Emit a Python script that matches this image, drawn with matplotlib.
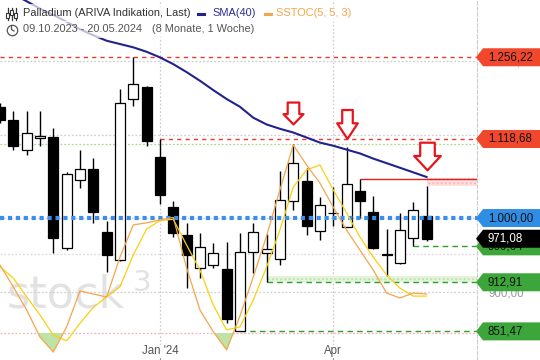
import matplotlib
matplotlib.use("Agg")
import numpy as np
import pandas as pd
import matplotlib.pyplot as plt
import matplotlib.dates as mdates
from matplotlib.patches import Polygon, Rectangle
from matplotlib.lines import Line2D
from matplotlib.path import Path
from matplotlib.ticker import NullLocator

plt.rcParams['font.family'] = ['Liberation Sans', 'DejaVu Sans']

# Wochenkerzen Palladium, 09.10.2023 - 20.05.2024
dates = pd.date_range("2023-10-09", periods=33, freq="7D")
opens = [1171, 1149, 1102, 1121, 1122, 959, 1055, 1072, 980, 942, 1184, 1204,
         1090, 1016, 976, 931, 936, 930, 852, 953, 951, 943, 1025, 1054,
         982, 1006.5, 988, 1039, 1009, 950.5, 938, 972, 1003]
highs = [1177, 1164, 1164, 1164, 1136, 1067, 1101, 1089, 996, 1201, 1256.22, 1206,
         1118.68, 1025, 993, 979, 965, 966, 979, 993, 978, 1069, 1110, 1073,
         1031, 1045, 1106, 1056.4, 1032, 984, 1007, 1023, 1046]
lows = [1144, 1102, 1093, 1108, 952, 956, 1044, 993, 926, 941, 1173, 1108,
        1020, 974, 906, 918, 932, 862, 851.47, 925, 912.91, 936, 1011, 976,
        970, 989, 987, 999.6, 957, 921, 937, 960.64, 968]
closes = [1149, 1108, 1128, 1124, 972, 1064, 1072, 1008, 949, 1178, 1209, 1116,
          1033, 979, 949, 960, 951, 867, 953, 980, 957, 1026, 1081, 989,
          1018, 1007.5, 1050, 1025, 959, 949.5, 983, 1012, 971.08]
sma40 = [1386, 1374, 1360, 1346, 1334, 1321, 1307, 1296, 1286, 1280, 1274, 1266,
         1256, 1244, 1230, 1215, 1199, 1184, 1171, 1153, 1142, 1135, 1129, 1121,
         1113, 1108, 1102, 1096, 1088, 1081, 1074, 1067, 1060]
stoch_k = [48.9, 39.6, 29.8, 18.3, 11.9, 22.6, 37.9, 36.6, 35.3, 52.3, 66.0, 66.9,
           68.1, 69.2, 47.7, 29.8, 20.6, 12.8, 27.2, 43.8, 61.3, 80.9, 100.0, 91.5,
           83.8, 73.6, 63.8, 55.3, 46.8, 37.0, 34.9, 37.0, 36.6]
stoch_d = [48.2, 43.3, 35.4, 27.7, 19.1, 16.7, 24.1, 30.9, 35.4, 39.7, 53.2, 64.3,
           67.8, 68.4, 57.4, 46.8, 31.9, 21.3, 22.6, 34.0, 48.1, 63.8, 82.1, 89.4,
           91.5, 80.9, 71.1, 60.9, 52.3, 44.7, 39.1, 35.7, 35.7]

# Gitter / Achsenbeschriftung (950 ist im Original verdeckt)
grid_vals = [850, 900, 950, 1000, 1125, 1250]
grid_text = ["850,00", "900,00", "", "1.000,00", "1.125,00", "1.250,00"]
grid_cols = ["#f2b3b3", "#d0d0d0", "#e2d4e2", "#d0d0d0", "#d0d0d0", "#c6cee0"]

# markierte Kursniveaus (Label rechts)
level_vals = [1256.22, 1118.68, 1000.00, 960.64, 971.08, 912.91, 851.47]
level_text = ["1.256,22", "1.118,68", "1.000,00", "960,64", "971,08", "912,91", "851,47"]
level_face = ["#f0472d", "#f0472d", "#2f8de4", "#3ca63a", "#000000", "#3ca63a", "#3ca63a"]
level_txt = ["#111111", "#111111", "#111111", "#111111", "#ffffff", "#111111", "#111111"]

resist_val = 1056.4
resist_band = (1046, 1058)
support_band = (913.6, 921.4)
arrow_idx = [22, 26, 32]
arrow_price = [1161.5, 1142, 1092.7]

W, H = 540, 360
fig = plt.figure(figsize=(W / 100, H / 100), dpi=100)
ax = fig.add_axes([0, 0, 477 / W, 1])
x = mdates.date2num(dates)
x0 = x[0]
xr = x0 + 250.5
ax.set_yscale('log')
ax.set_ylim(817.6, 1362.5)
ax.set_xlim(x0, xr)

# SSTOC-Achse (Overlay)
ax2 = ax.twinx()
ax2.set_ylim(8.51, 161.7)
ax2.axis("off")

# Gitterlinien
for v, col in zip(grid_vals, grid_cols):
    ax.axhline(v, color=col, lw=0.9, ls=(0, (1.5, 1.5)), zorder=1)
ax.axhline(1110, color="#a9da90", lw=0.9, ls=(0, (1.5, 1.5)), zorder=1)
jan, apr = mdates.date2num([pd.Timestamp("2024-01-01"), pd.Timestamp("2024-04-01")])
for xv in (jan, apr):
    ax.axvline(xv, color="#d4cadb", lw=0.9, ls=(0, (1.5, 1.5)), zorder=1)

# Wasserzeichen
ax.text(7 / W, 1 - 307 / H, "stock", transform=fig.transFigure, fontsize=32,
        family="DejaVu Sans", color="#e2e2e2", va="baseline", zorder=0.5)
ax.text(133 / W, 1 - 291 / H, "3", transform=fig.transFigure, fontsize=21,
        family="DejaVu Sans", color="#e2e2e2", va="baseline", zorder=0.5)

# Zonen
ax.fill_between([x[32], xr], resist_band[0], resist_band[1], facecolor="#fde0e0",
                edgecolor="#f6b8b8", hatch="....", lw=0, zorder=1.5)
ax.fill_between([x[20], xr], support_band[0], support_band[1], facecolor="#e3f4da",
                edgecolor="#bfe3ae", hatch="....", lw=0, zorder=1.5)

# Horizontale Linien
ax.axhline(level_vals[0], color="#ec3b2b", lw=1, ls=(0, (3, 3)), zorder=2)
ax.hlines(level_vals[1], x[12], xr, color="#ec3b2b", lw=1, ls=(0, (3, 3)), zorder=2)
ax.hlines(level_vals[3], x[31], xr, color="#2e9e2e", lw=1, ls=(0, (4, 3)), zorder=2)
ax.hlines(level_vals[5], x[20], xr, color="#2e9e2e", lw=1, ls=(0, (4, 3)), zorder=2)
ax.hlines(level_vals[6], x[18], xr, color="#2e9e2e", lw=1, ls=(0, (4, 3)), zorder=2)
ax.hlines(resist_val, x[27], xr, color="#e02020", lw=1, zorder=2)

# Kerzen
o = np.array(opens)
c = np.array(closes)
up = c >= o
ax.vlines(x, lows, highs, color="black", lw=1, zorder=3)
ax.bar(x[up], (c - o)[up], bottom=o[up], width=5.25, color="white",
       edgecolor="black", lw=0.9, zorder=3.5)
ax.bar(x[~up], (o - c)[~up], bottom=c[~up], width=5.25, color="black",
       edgecolor="black", lw=0.9, zorder=3.5)

# SMA(40)
ax.plot(x, sma40, color="#22228c", lw=1.5, zorder=4)

# 1.000er Linie
ax.axhline(level_vals[2], color="#3b8fe8", lw=3, ls=(0, (1, 0.9)), zorder=5)


# Pfeile
def arrow_path(sw, sh, hw, hh):
    top = (sh + hh) / 2
    mid = top - sh
    tip = -top
    verts = [(-sw / 2, top), (sw / 2, top), (sw / 2, mid), (hw / 2, mid), (0, tip),
             (-hw / 2, mid), (-sw / 2, mid), (-sw / 2, top)]
    codes = [Path.MOVETO] + [Path.LINETO] * 6 + [Path.CLOSEPOLY]
    return Path(verts, codes), max(top, hw / 2)


shapes = [(11.6, 11.6, 20, 10.3), (10.6, 13.3, 20.6, 15.7), (14.6, 13.3, 26.6, 14.3)]
for i, p, s in zip(arrow_idx, arrow_price, shapes):
    path, m = arrow_path(*s)
    ax.plot([x[i]], [p], marker=path, markersize=2 * m * 72 / 100,
            markerfacecolor="white", markeredgecolor="#e8141c", markeredgewidth=1.6,
            ls="none", zorder=6)

# Achsen
for sp in ["left", "top", "bottom"]:
    ax.spines[sp].set_visible(False)
ax.spines["right"].set_color("#cccccc")
ax.spines["right"].set_linestyle((0, (3, 2)))
ax.spines["right"].set_linewidth(0.8)
ax.yaxis.tick_right()
ax.set_yticks(grid_vals)
ax.set_yticklabels(grid_text)
ax.yaxis.set_minor_locator(NullLocator())
ax.tick_params(axis="y", which="both", length=0, pad=8, labelsize=8.3,
               labelcolor="#9a9a9a", left=False, labelleft=False, right=True, labelright=True)
ax.set_xticks([jan, apr])
ax.set_xticklabels(["Jan '24", "Apr"])
ax.tick_params(axis="x", direction="in", length=3, color="#999999", pad=-10.5,
               labelsize=8.3, labelcolor="#555555")
for t in ax.get_xticklabels():
    t.set_bbox(dict(facecolor="white", edgecolor="none", pad=0.3))

# Legenden-Hintergrund
ax.add_patch(Rectangle((0, 1 - 22 / H), 357 / W, 18 / H, transform=fig.transFigure,
                       facecolor="white", edgecolor="none", alpha=0.7, zorder=7))
ax.add_patch(Rectangle((0, 1 - 38 / H), 256 / W, 17 / H, transform=fig.transFigure,
                       facecolor="white", edgecolor="none", alpha=0.7, zorder=7))

# SSTOC(5, 5, 3)
k = np.array(stoch_k)
ax2.fill_between(x, k, 20, where=k < 20, interpolate=True, color="#bde4a6", lw=0)
ax2.plot(x, stoch_d, color="#f9d10f", lw=0.9)
ax2.plot(x, k, color="#f6a54a", lw=0.9)


# Kurs-Labels rechts
def tag(price, text, face, tcol, z):
    yd = ax.transData.transform((x0, price))[1]
    pts = [(476, yd), (483, yd + 9), (W, yd + 9), (W, yd - 9), (483, yd - 9)]
    pts = [(a / W, b / H) for a, b in pts]
    fig.add_artist(Polygon(pts, closed=True, transform=fig.transFigure,
                           facecolor=face, edgecolor="none", zorder=z))
    fig.text(488 / W, yd / H, text, ha="left", va="center", fontsize=8.3,
             color=tcol, zorder=z + 0.1)


for n, (v, t, f, tc) in enumerate(zip(level_vals, level_text, level_face, level_txt)):
    tag(v, t, f, tc, 5 + n)

# Legende
fy = lambda py: 1 - py / H
fig.text(23 / W, fy(13.5), "Palladium (ARIVA Indikation, Last)", fontsize=7.9,
         color="#333333", va="center", zorder=20)
fig.add_artist(Line2D([198 / W, 204 / W], [fy(13.5)] * 2, color="#22228c", lw=2.2, zorder=20))
fig.text(212.5 / W, fy(13.5), "SMA(40)", fontsize=7.9, color="#2d2d95", va="center", zorder=20)
fig.add_artist(Line2D([265 / W, 271 / W], [fy(13.5)] * 2, color="#f6a54a", lw=2.2, zorder=20))
fig.text(276 / W, fy(13.5), "SSTOC(5, 5, 3)", fontsize=7.9, color="#f6a54a", va="center", zorder=20)
fig.text(23 / W, fy(29.5), "09.10.2023 - 20.05.2024", fontsize=7.9, color="#555555",
         va="center", zorder=20)
fig.text(152 / W, fy(29.5), "(8 Monate, 1 Woche)", fontsize=7.9, color="#555555",
         va="center", zorder=20)
# Kerzen-Symbol
for xi, yb in zip([7.5, 11.5, 15.5], [15, 12, 15]):
    fig.add_artist(Line2D([xi / W] * 2, [fy(8), fy(20)], color="#333333", lw=0.9, zorder=20))
    fig.add_artist(Rectangle(((xi - 1.8) / W, fy(yb + 2.5)), 3.6 / W, 5 / H,
                             transform=fig.transFigure, facecolor="white",
                             edgecolor="#333333", lw=0.8, zorder=21))
# Uhr-Symbol
fig.add_artist(Line2D([11.5 / W], [fy(29.5)], marker="o", markersize=7.5, markerfacecolor="none",
                      markeredgecolor="#555555", markeredgewidth=0.9, zorder=20))
fig.add_artist(Line2D([11.5 / W, 11.5 / W, 14 / W], [fy(26.5), fy(29.5), fy(31)],
                      color="#555555", lw=0.9, zorder=20))

fig.savefig("out.png", dpi=100, facecolor="white")
